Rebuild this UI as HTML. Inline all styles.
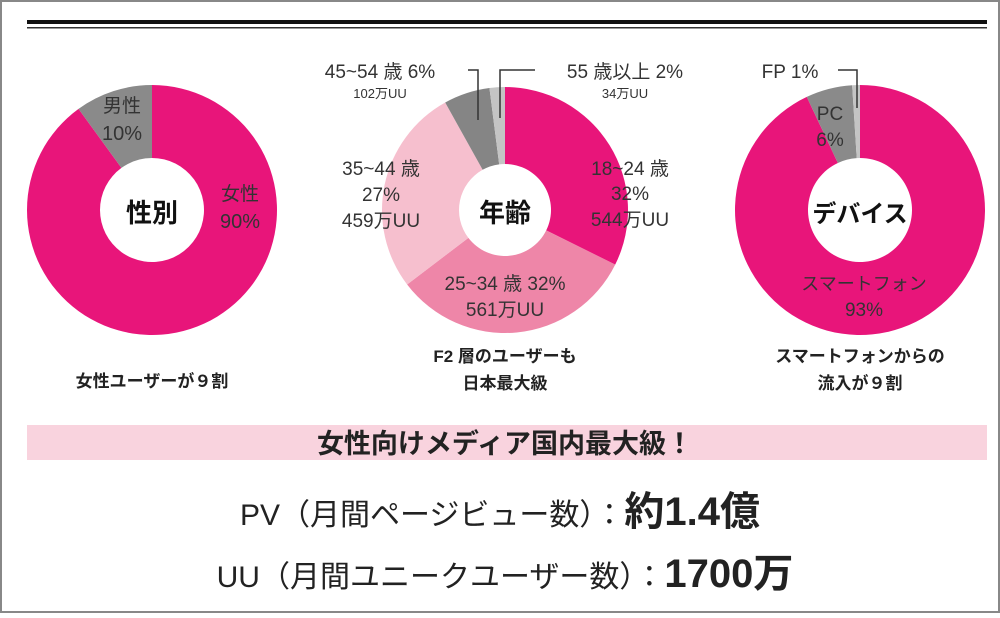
<!DOCTYPE html>
<html><head><meta charset="utf-8"><style>
body{margin:0;background:#fff}
svg text{font-family:"Liberation Sans","Noto Sans CJK JP",sans-serif}
</style></head><body>
<svg width="1000" height="613" viewBox="0 0 1000 613" xmlns="http://www.w3.org/2000/svg">
<rect x="1" y="1" width="998" height="611" fill="#fff" stroke="#888" stroke-width="2"/>
<rect x="27" y="20" width="960" height="4" fill="#111"/>
<rect x="27" y="27" width="960" height="1.5" fill="#333"/>
<g id="charts"></g>
<g fill="#222" font-size="17" text-anchor="middle">
<text x="152" y="387" font-weight="bold">女性ユーザーが９割</text>
<text x="505" y="362" font-weight="bold">F2 層のユーザーも</text>
<text x="505" y="389" font-weight="bold">日本最大級</text>
<text x="860" y="362" font-weight="bold">スマートフォンからの</text>
<text x="860" y="389" font-weight="bold">流入が９割</text>
</g>
<rect x="27" y="425" width="960" height="35" fill="#f9d3de"/>
<text x="505" y="453" font-size="27" font-weight="bold" fill="#222" text-anchor="middle">女性向けメディア国内最大級！</text>
<text x="500" y="525" fill="#222" text-anchor="middle"><tspan font-size="30">PV（月間ページビュー数）：</tspan><tspan font-size="40" font-weight="bold">約1.4億</tspan></text>
<text x="505" y="587" fill="#222" text-anchor="middle"><tspan font-size="30">UU（月間ユニークユーザー数）：</tspan><tspan font-size="40" font-weight="bold">1700万</tspan></text>
</svg>
<script>
const genderLabels=["女性","男性"];
const genderValues=[90,10];
const ageLabels=["18~24歳","25~34歳","35~44歳","45~54歳","55歳以上"];
const ageValues=[32,32,27,6,2];
const deviceLabels=["スマートフォン","PC","FP"];
const deviceValues=[93,6,1];
const NS="http://www.w3.org/2000/svg";
const g=document.getElementById('charts');
function arc(cx,cy,R,r,a0,a1){
  const p=(rad,a)=>[cx+rad*Math.sin(a),cy-rad*Math.cos(a)];
  const lg=(a1-a0)>Math.PI?1:0;
  const [x0,y0]=p(R,a0),[x1,y1]=p(R,a1),[x2,y2]=p(r,a1),[x3,y3]=p(r,a0);
  return `M${x0},${y0}A${R},${R} 0 ${lg} 1 ${x1},${y1}L${x2},${y2}A${r},${r} 0 ${lg} 0 ${x3},${y3}Z`;
}
function donut(cx,cy,R,r,vals,cols,names){
  const tot=vals.reduce((a,b)=>a+b,0);let a=0;
  vals.forEach((v,i)=>{
    const a1=a+v/tot*2*Math.PI;
    const path=document.createElementNS(NS,'path');
    path.setAttribute('d',arc(cx,cy,R,r,a,a1));
    path.setAttribute('fill',cols[i]);
    
    
    g.appendChild(path);a=a1;
  });
}
donut(152,210,125,52,genderValues,["#e8157a","#8a8a8a"],["slice-female","slice-male"]);
donut(505,210,123,46,ageValues,["#e8157a","#ee86a8","#f6bfce","#858585","#c4c4c4"],["slice-18-24","slice-25-34","slice-35-44","slice-45-54","slice-55plus"]);
donut(860,210,125,52,deviceValues,["#e8157a","#8a8a8a","#c4c4c4"],["slice-smartphone","slice-pc","slice-fp"]);
function txt(x,y,s,size,opts){
  const t=document.createElementNS(NS,'text');
  t.setAttribute('x',x);t.setAttribute('y',y);t.setAttribute('font-size',size);
  t.setAttribute('text-anchor',(opts&&opts.anchor)||'middle');
  t.setAttribute('fill',(opts&&opts.fill)||'#333');
  if(opts&&opts.bold)t.setAttribute('font-weight','bold');
  t.textContent=s;
  
  
  g.appendChild(t);
}
txt(152,222,"性別",26,{bold:1,fill:"#111",name:"gender-center"});
txt(505,222,"年齢",26,{bold:1,fill:"#111",name:"age-center"});
txt(860,222,"デバイス",24,{bold:1,fill:"#111",name:"device-center"});
txt(240,200,genderLabels[0],19,{name:"female-label"});
txt(240,228,genderValues[0]+"%",20,{name:"female-value"});
txt(122,112,genderLabels[1],19,{name:"male-label"});
txt(122,140,genderValues[1]+"%",20,{name:"male-value"});
txt(630,175,"18~24 歳",19,{name:"age1-label"});
txt(630,200,ageValues[0]+"%",19,{name:"age1-value"});
txt(630,226,"544万UU",19,{name:"age1-uu"});
txt(505,290,"25~34 歳 "+ageValues[1]+"%",19,{name:"age2-label"});
txt(505,316,"561万UU",19,{name:"age2-uu"});
txt(381,175,"35~44 歳",19,{name:"age3-label"});
txt(381,201,ageValues[2]+"%",19,{name:"age3-value"});
txt(381,227,"459万UU",19,{name:"age3-uu"});
txt(380,78,"45~54 歳 "+ageValues[3]+"%",19,{name:"age4-label"});
txt(380,98,"102万UU",13,{name:"age4-uu"});
txt(625,78,"55 歳以上 "+ageValues[4]+"%",19,{name:"age5-label"});
txt(625,98,"34万UU",13,{name:"age5-uu"});
txt(864,290,"スマートフォン",18,{name:"smartphone-label"});
txt(864,316,deviceValues[0]+"%",19,{name:"smartphone-value"});
txt(830,120,"PC",19,{name:"pc-label"});
txt(830,146,deviceValues[1]+"%",19,{name:"pc-value"});
txt(790,78,"FP "+deviceValues[2]+"%",19,{name:"fp-label"});
function leader(d,name){
  const p=document.createElementNS(NS,'path');
  p.setAttribute('d',d);p.setAttribute('fill','none');p.setAttribute('stroke','#333');p.setAttribute('stroke-width','1.5');
  
  
  g.appendChild(p);
}
leader("M468,70H478V120","leader-45-54");
leader("M535,70H500V118","leader-55plus");
leader("M838,70H857V108","leader-fp");
</script>
</body></html>
